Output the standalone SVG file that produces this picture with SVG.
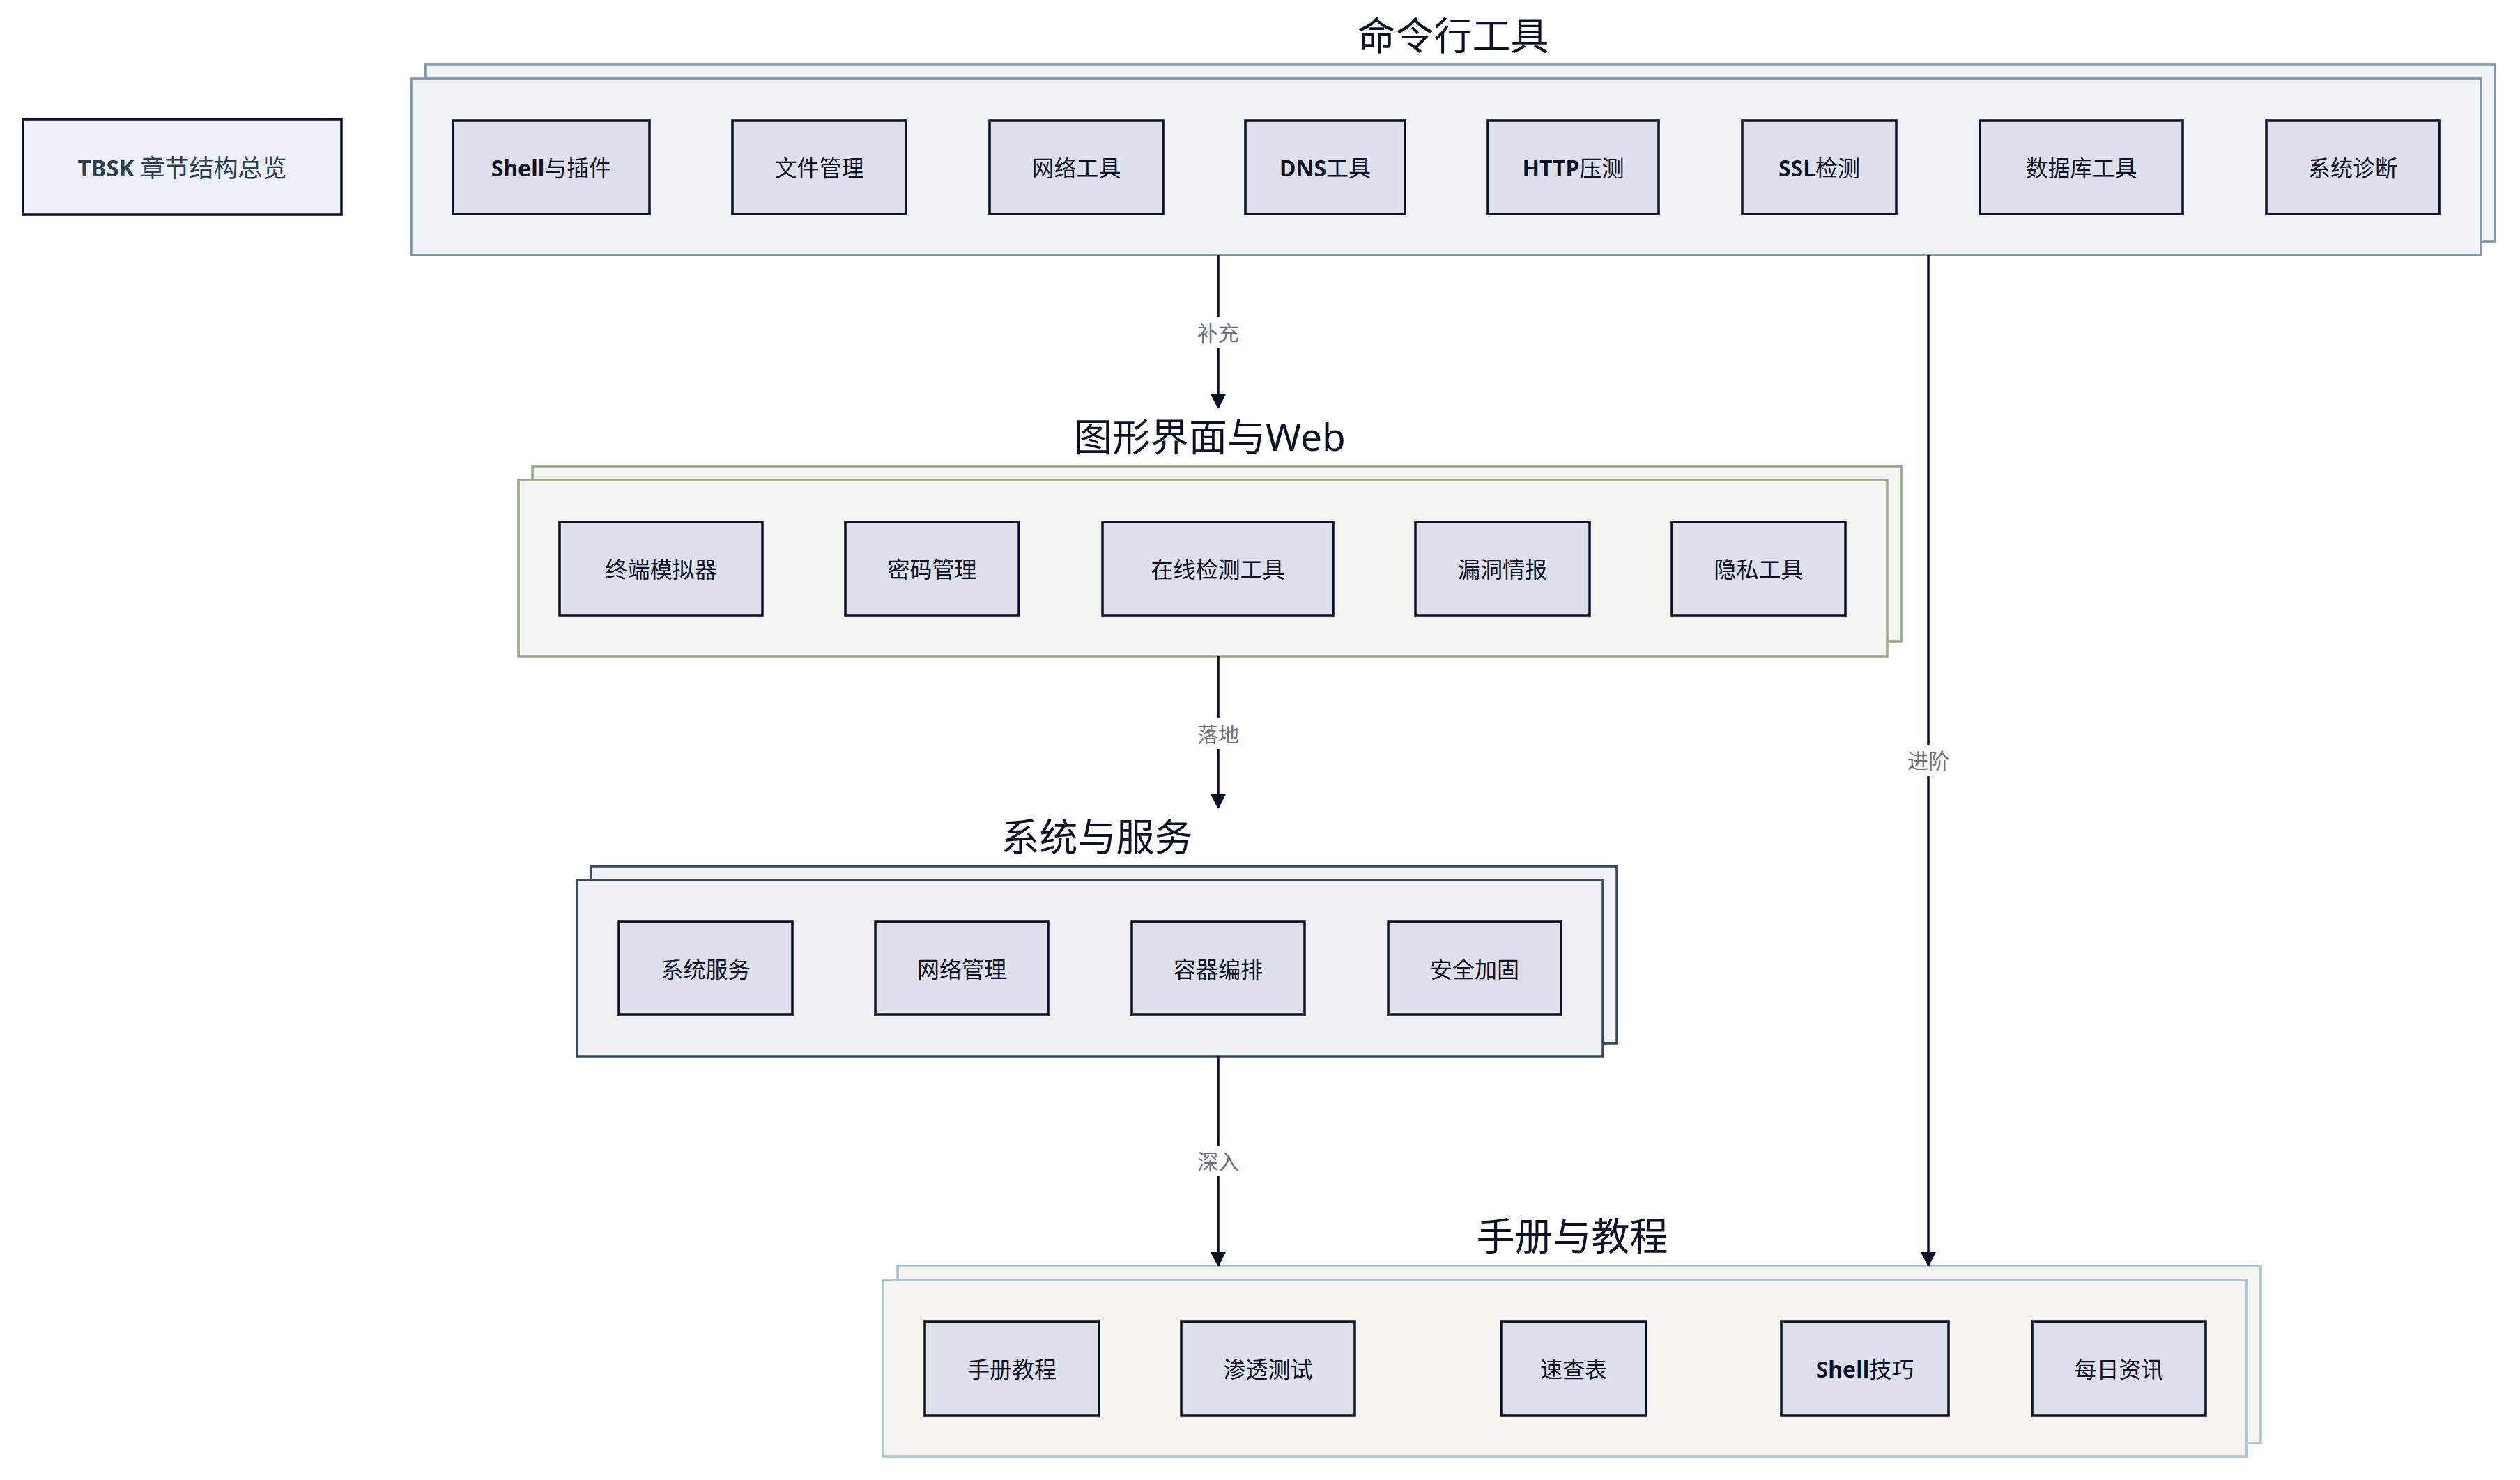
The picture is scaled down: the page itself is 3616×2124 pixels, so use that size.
<svg xmlns="http://www.w3.org/2000/svg" width="3616" height="2124" viewBox="0 0 3616 2124">
<defs>
<style>
text{font-family:"Noto Sans","Noto Sans CJK SC",sans-serif;}
.node{fill:#dee0ec;stroke:#0b1026;stroke-width:3.5;}
.nt{font-size:32px;fill:#0b1026;text-anchor:middle;dominant-baseline:central;}
.b{font-weight:700;}
.title{font-size:55px;fill:#0b1026;text-anchor:middle;dominant-baseline:central;}
.c1{fill:#eff2f7;stroke:#7e95aa;stroke-width:3.5;}
.c2{fill:#f3f5f0;stroke:#9ba88b;stroke-width:3.5;}
.c3{fill:#f0f1f5;stroke:#34495e;stroke-width:3.5;}
.c4{fill:#f7f4ef;stroke:#a5c4d5;stroke-width:3.5;}
.edge{fill:none;stroke:#0b1026;stroke-width:3.5;marker-end:url(#arr);}
.lbg{fill:#ffffff;}
.lt{font-size:30px;fill:#6b7080;text-anchor:middle;dominant-baseline:central;}
</style>
<marker id="arr" markerUnits="userSpaceOnUse" markerWidth="22" markerHeight="22" refX="20" refY="11" orient="auto">
<path d="M0,0 L21,11 L0,22 z" fill="#0b1026"/>
</marker>
</defs>
<rect width="3616" height="2124" fill="#ffffff"/>

<g id="overview">
<rect x="33" y="171" width="457" height="137" fill="#eef1f8" stroke="#0b1026" stroke-width="3.5"/>
<text x="261.5" y="240" style="font-size:35px;fill:#2c3e50;text-anchor:middle;dominant-baseline:central;"><tspan class="b" style="font-size:33px">TBSK</tspan> 章节结构总览</text>
</g>

<g id="cluster-cli">
<rect class="c1" x="610" y="93" width="2970" height="254"/>
<rect class="c1" x="590" y="113" width="2970" height="253"/>
<text class="title" x="2085" y="49">命令行工具</text>
</g>
<g id="cli-shell"><rect class="node" x="650" y="173" width="282" height="134"/><text class="nt" x="791" y="240"><tspan class="b">Shell</tspan>与插件</text></g>
<g id="cli-file"><rect class="node" x="1051" y="173" width="249" height="134"/><text class="nt" x="1175.5" y="240">文件管理</text></g>
<g id="cli-net"><rect class="node" x="1420" y="173" width="249" height="134"/><text class="nt" x="1544.5" y="240">网络工具</text></g>
<g id="cli-dns"><rect class="node" x="1787" y="173" width="229" height="134"/><text class="nt" x="1901.5" y="240"><tspan class="b">DNS</tspan>工具</text></g>
<g id="cli-http"><rect class="node" x="2135" y="173" width="245" height="134"/><text class="nt" x="2257.5" y="240"><tspan class="b">HTTP</tspan>压测</text></g>
<g id="cli-ssl"><rect class="node" x="2500" y="173" width="221" height="134"/><text class="nt" x="2610.5" y="240"><tspan class="b">SSL</tspan>检测</text></g>
<g id="cli-db"><rect class="node" x="2841" y="173" width="291" height="134"/><text class="nt" x="2986.5" y="240">数据库工具</text></g>
<g id="cli-diag"><rect class="node" x="3252" y="173" width="248" height="134"/><text class="nt" x="3376" y="240">系统诊断</text></g>

<g id="cluster-gui">
<rect class="c2" x="764" y="669" width="1964" height="252"/>
<rect class="c2" x="744" y="689" width="1964" height="253"/>
<text class="title" x="1736" y="625">图形界面与Web</text>
</g>
<g id="gui-term"><rect class="node" x="803" y="749" width="291" height="134"/><text class="nt" x="948.5" y="816">终端模拟器</text></g>
<g id="gui-pass"><rect class="node" x="1213" y="749" width="249" height="134"/><text class="nt" x="1337.5" y="816">密码管理</text></g>
<g id="gui-online"><rect class="node" x="1582" y="749" width="331" height="134"/><text class="nt" x="1747.5" y="816">在线检测工具</text></g>
<g id="gui-vuln"><rect class="node" x="2031" y="749" width="250" height="134"/><text class="nt" x="2156" y="816">漏洞情报</text></g>
<g id="gui-privacy"><rect class="node" x="2399" y="749" width="249" height="134"/><text class="nt" x="2523.5" y="816">隐私工具</text></g>

<g id="cluster-sys">
<rect class="c3" x="848" y="1243" width="1472" height="254"/>
<rect class="c3" x="828" y="1263" width="1472" height="253"/>
<text class="title" x="1574" y="1199">系统与服务</text>
</g>
<g id="sys-svc"><rect class="node" x="888" y="1323" width="249" height="133"/><text class="nt" x="1012.5" y="1390">系统服务</text></g>
<g id="sys-net"><rect class="node" x="1256" y="1323" width="248" height="133"/><text class="nt" x="1380" y="1390">网络管理</text></g>
<g id="sys-ctr"><rect class="node" x="1624" y="1323" width="248" height="133"/><text class="nt" x="1748" y="1390">容器编排</text></g>
<g id="sys-sec"><rect class="node" x="1992" y="1323" width="248" height="133"/><text class="nt" x="2116" y="1390">安全加固</text></g>

<g id="cluster-doc">
<rect class="c4" x="1288" y="1817" width="1956" height="254"/>
<rect class="c4" x="1267" y="1837" width="1957" height="253"/>
<text class="title" x="2256" y="1772">手册与教程</text>
</g>
<g id="doc-manual"><rect class="node" x="1327" y="1897" width="250" height="134"/><text class="nt" x="1452" y="1964">手册教程</text></g>
<g id="doc-pentest"><rect class="node" x="1695" y="1897" width="249" height="134"/><text class="nt" x="1819.5" y="1964">渗透测试</text></g>
<g id="doc-cheat"><rect class="node" x="2154" y="1897" width="208" height="134"/><text class="nt" x="2258" y="1964">速查表</text></g>
<g id="doc-shell"><rect class="node" x="2556" y="1897" width="240" height="134"/><text class="nt" x="2676" y="1964"><tspan class="b">Shell</tspan>技巧</text></g>
<g id="doc-news"><rect class="node" x="2916" y="1897" width="249" height="134"/><text class="nt" x="3040.5" y="1964">每日资讯</text></g>

<g id="connectors">
<path class="edge" d="M1748,366 L1748,586"/>
<rect class="lbg" x="1712" y="455" width="72" height="44"/>
<text class="lt" x="1748" y="477">补充</text>

<path class="edge" d="M1748,942 L1748,1160"/>
<rect class="lbg" x="1712" y="1031" width="72" height="44"/>
<text class="lt" x="1748" y="1053">落地</text>

<path class="edge" d="M1748,1516 L1748,1817"/>
<rect class="lbg" x="1712" y="1644" width="72" height="44"/>
<text class="lt" x="1748" y="1666">深入</text>

<path class="edge" d="M2767,366 L2767,1817"/>
<rect class="lbg" x="2731" y="1069" width="72" height="44"/>
<text class="lt" x="2767" y="1091">进阶</text>
</g>
</svg>
